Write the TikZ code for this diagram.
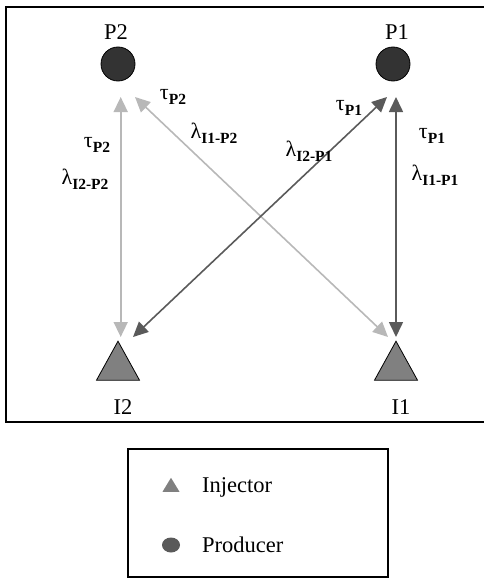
\documentclass[tikz,border=0pt]{standalone}
\usepackage{fontspec}
\setmainfont{Liberation Serif}
\usetikzlibrary{arrows.meta,shapes.geometric}
\definecolor{lightarr}{HTML}{B8B8B8}
\definecolor{darkarr}{HTML}{5A5A5A}
\definecolor{prodfill}{HTML}{333333}
\definecolor{injfill}{HTML}{808080}
\newcommand{\lab}[2]{{\fontsize{22}{22}\selectfont #1}\raisebox{-5pt}{\fontsize{15.5}{15.5}\selectfont\bfseries #2}}
\begin{document}
\begin{tikzpicture}[x=1pt,y=-1pt,
  frame/.style={draw=black,line width=1.6pt},
  producer/.style={circle,draw=black,line width=0.8pt,fill=prodfill,minimum size=34pt,inner sep=0pt},
  injector/.style={isosceles triangle,shape border rotate=90,isosceles triangle stretches,draw=black,line width=0.8pt,fill=injfill,minimum width=43pt,minimum height=39pt,inner sep=0pt},
  wname/.style={font=\fontsize{22.5}{22.5}\selectfont},
  lbl/.style={inner sep=0pt},
  link/.style={line width=1.6pt,{Triangle[width=14pt,length=15pt]}-{Triangle[width=14pt,length=15pt]}},
  legtext/.style={font=\fontsize{22.5}{22.5}\selectfont,anchor=west,inner sep=0pt}
]
\useasboundingbox (0,0) rectangle (483,578);
% main frame
\draw[frame] (484,7) -- (6,7) -- (6,422) -- (484,422);
% wells
\node[producer] (p2) at (118,64) {};
\node[producer] (p1) at (393,64) {};
\node[injector] (i2) at (118,367.5) {};
\node[injector] (i1) at (396,367.5) {};
\node[wname] (p2l) at (116,32) {P2};
\node[wname] (p1l) at (397,32) {P1};
\node[wname] (i2l) at (123,407) {I2};
\node[wname] (i1l) at (401,407) {I1};
% arrow end points
\coordinate (a2t) at (120.7,97);
\coordinate (a2b) at (120.7,337);
\coordinate (d1t) at (135,97);
\coordinate (d1b) at (388,337);
\coordinate (d2t) at (387,97);
\coordinate (d2b) at (133,337);
\coordinate (a1t) at (396,97);
\coordinate (a1b) at (396,337);
% connectors
\draw[link,lightarr] (a2t) -- (a2b);
\draw[link,lightarr] (d1t) -- (d1b);
\draw[link,darkarr] (d2t) -- (d2b);
\draw[link,darkarr] (a1t) -- (a1b);
% labels
\node[lbl] (t2a) at (173,97) {\lab{τ}{P2}};
\node[lbl] (l12) at (214,133) {\lab{λ}{I1-P2}};
\node[lbl] (t2b) at (97,145) {\lab{τ}{P2}};
\node[lbl] (l22) at (85,179) {\lab{λ}{I2-P2}};
\node[lbl] (t1a) at (349,108) {\lab{τ}{P1}};
\node[lbl] (l21) at (309,151) {\lab{λ}{I2-P1}};
\node[lbl] (t1b) at (432,136) {\lab{τ}{P1}};
\node[lbl] (l11) at (435,175) {\lab{λ}{I1-P1}};
% legend
\draw[line width=1.3pt] (128,449) rectangle (388,577);
\node[isosceles triangle,shape border rotate=90,isosceles triangle stretches,fill=injfill,minimum width=17pt,minimum height=14pt,inner sep=0pt] (legi) at (171,487) {};
\node[ellipse,fill=darkarr,minimum width=18pt,minimum height=15pt,inner sep=0pt] (legp) at (171,545) {};
\node[legtext] (legit) at (202,487) {Injector};
\node[legtext] (legpt) at (202,545) {Producer};
\end{tikzpicture}
\end{document}
